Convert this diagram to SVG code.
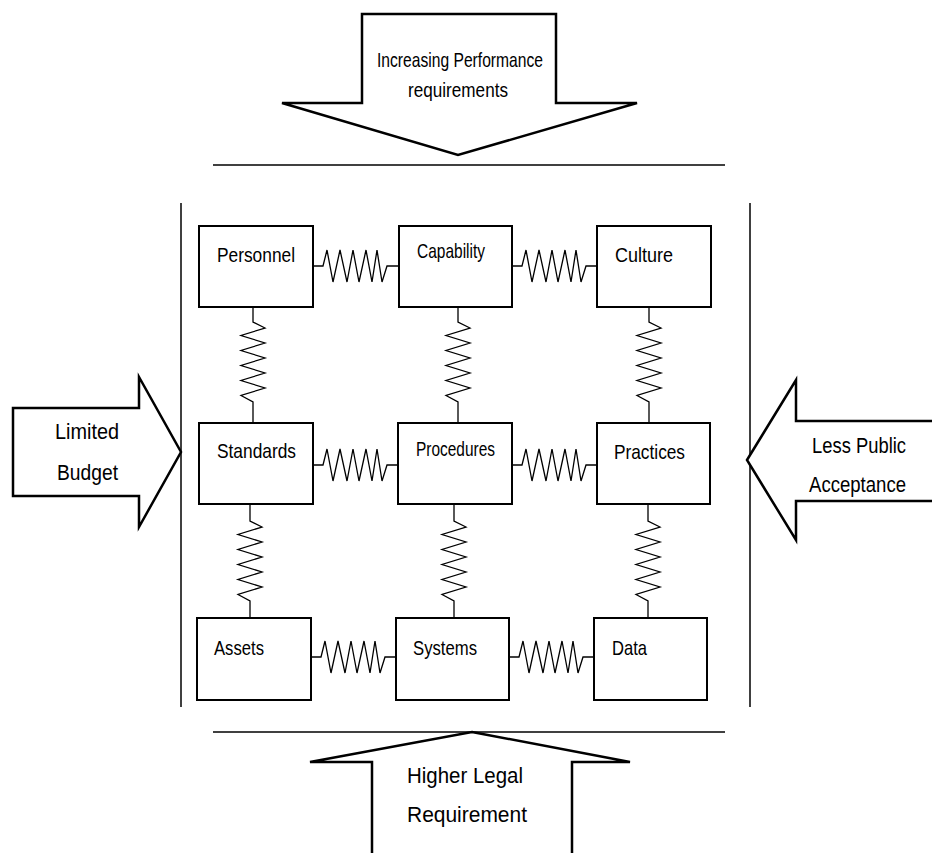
<svg xmlns="http://www.w3.org/2000/svg" xmlns:xlink="http://www.w3.org/1999/xlink" width="932" height="853" viewBox="0 0 932 853">
<style>
.box{fill:#fff;stroke:#000;stroke-width:2}
.arrow{fill:#fff;stroke:#000;stroke-width:2.5;stroke-linejoin:miter}
.rule{stroke:#000;stroke-width:1.5;fill:none}
.spring{fill:none;stroke:#000;stroke-width:1.3;stroke-linejoin:miter}
.t{font-family:"Liberation Sans",Arial,sans-serif;font-size:21px;fill:#000}
.ta{font-family:"Liberation Sans",Arial,sans-serif;font-size:22px;fill:#000}
</style>
<defs>
<path id="hs" d="M0 0 H10 L14 -16 L20 16 L27 -16 L34 16 L40 -16 L46 16 L53 -16 L59 16 L64 -16 L69 16 L74 0 H86"/>
<path id="vs1" d="M0 0 V15 L12 21 L-12 28.5 L12 36 L-12 43.5 L12 51 L-12 58.5 L12 66 L-12 73.5 L12 81 L-12 88.5 L0 95 V116"/>
<path id="vs2" d="M0 0 V17 L12 23 L-12 30.5 L12 38 L-12 45.5 L12 53 L-12 60.5 L12 68 L-12 75.5 L12 83 L-12 90.5 L0 97 V114"/>
</defs>

<g id="frame">
<line class="rule" x1="213" y1="165" x2="725" y2="165"/>
<line class="rule" x1="213" y1="732" x2="725" y2="732"/>
<line class="rule" x1="181" y1="203" x2="181" y2="707"/>
<line class="rule" x1="750" y1="203" x2="750" y2="707"/>
</g>

<g id="arrow-top">
<polygon class="arrow" points="362,14 556,14 556,103 637,103 458,155 282,103 362,103"/>
<text class="t" x="377" y="67" textLength="166" lengthAdjust="spacingAndGlyphs">Increasing Performance</text>
<text class="t" x="408" y="97" textLength="100" lengthAdjust="spacingAndGlyphs">requirements</text>
</g>

<g id="arrow-left">
<polygon class="arrow" points="13,408 139,408 139,377 181,452 139,527 139,496 13,496"/>
<text class="ta" x="55" y="439" textLength="64" lengthAdjust="spacingAndGlyphs">Limited</text>
<text class="ta" x="57" y="480" textLength="61" lengthAdjust="spacingAndGlyphs">Budget</text>
</g>

<g id="arrow-right">
<polygon class="arrow" points="747,460 796,380 796,421 940,421 940,501 796,501 796,540"/>
<text class="ta" x="812" y="453" textLength="94" lengthAdjust="spacingAndGlyphs">Less Public</text>
<text class="ta" x="809" y="492" textLength="97" lengthAdjust="spacingAndGlyphs">Acceptance</text>
</g>

<g id="arrow-bottom">
<polygon class="arrow" points="472,732 630,762 572,762 572,870 372,870 372,762 310,762"/>
<text class="ta" x="407" y="783" textLength="116" lengthAdjust="spacingAndGlyphs">Higher Legal</text>
<text class="ta" x="407" y="822" textLength="120" lengthAdjust="spacingAndGlyphs">Requirement</text>
</g>

<g id="connectors">
<use href="#hs" class="spring" transform="translate(313,266)"/>
<use href="#hs" class="spring" transform="translate(512,266)"/>
<use href="#hs" class="spring" transform="translate(313,465)"/>
<use href="#hs" class="spring" transform="translate(512,465)"/>
<use href="#hs" class="spring" transform="translate(311,657)"/>
<use href="#hs" class="spring" transform="translate(509,657)"/>
<use href="#vs1" class="spring" transform="translate(253,307)"/>
<use href="#vs1" class="spring" transform="translate(458,307)"/>
<use href="#vs1" class="spring" transform="translate(649,307)"/>
<use href="#vs2" class="spring" transform="translate(250,504)"/>
<use href="#vs2" class="spring" transform="translate(454,504)"/>
<use href="#vs2" class="spring" transform="translate(648,504)"/>
</g>

<g id="personnel"><rect class="box" x="199" y="226" width="114" height="81"/><text class="t" x="217" y="262" textLength="78" lengthAdjust="spacingAndGlyphs">Personnel</text></g>
<g id="capability"><rect class="box" x="399" y="226" width="113" height="81"/><text class="t" x="417" y="258" textLength="68" lengthAdjust="spacingAndGlyphs">Capability</text></g>
<g id="culture"><rect class="box" x="597" y="226" width="114" height="81"/><text class="t" x="615" y="262" textLength="58" lengthAdjust="spacingAndGlyphs">Culture</text></g>

<g id="standards"><rect class="box" x="199" y="423" width="114" height="81"/><text class="t" x="217" y="458" textLength="79" lengthAdjust="spacingAndGlyphs">Standards</text></g>
<g id="procedures"><rect class="box" x="398" y="423" width="114" height="81"/><text class="t" x="416" y="456" textLength="79" lengthAdjust="spacingAndGlyphs">Procedures</text></g>
<g id="practices"><rect class="box" x="597" y="423" width="113" height="81"/><text class="t" x="614" y="459" textLength="71" lengthAdjust="spacingAndGlyphs">Practices</text></g>

<g id="assets"><rect class="box" x="197" y="618" width="114" height="82"/><text class="t" x="214" y="655" textLength="50" lengthAdjust="spacingAndGlyphs">Assets</text></g>
<g id="systems"><rect class="box" x="396" y="618" width="113" height="82"/><text class="t" x="413" y="655" textLength="64" lengthAdjust="spacingAndGlyphs">Systems</text></g>
<g id="data"><rect class="box" x="594" y="618" width="113" height="82"/><text class="t" x="612" y="655" textLength="35" lengthAdjust="spacingAndGlyphs">Data</text></g>
</svg>
